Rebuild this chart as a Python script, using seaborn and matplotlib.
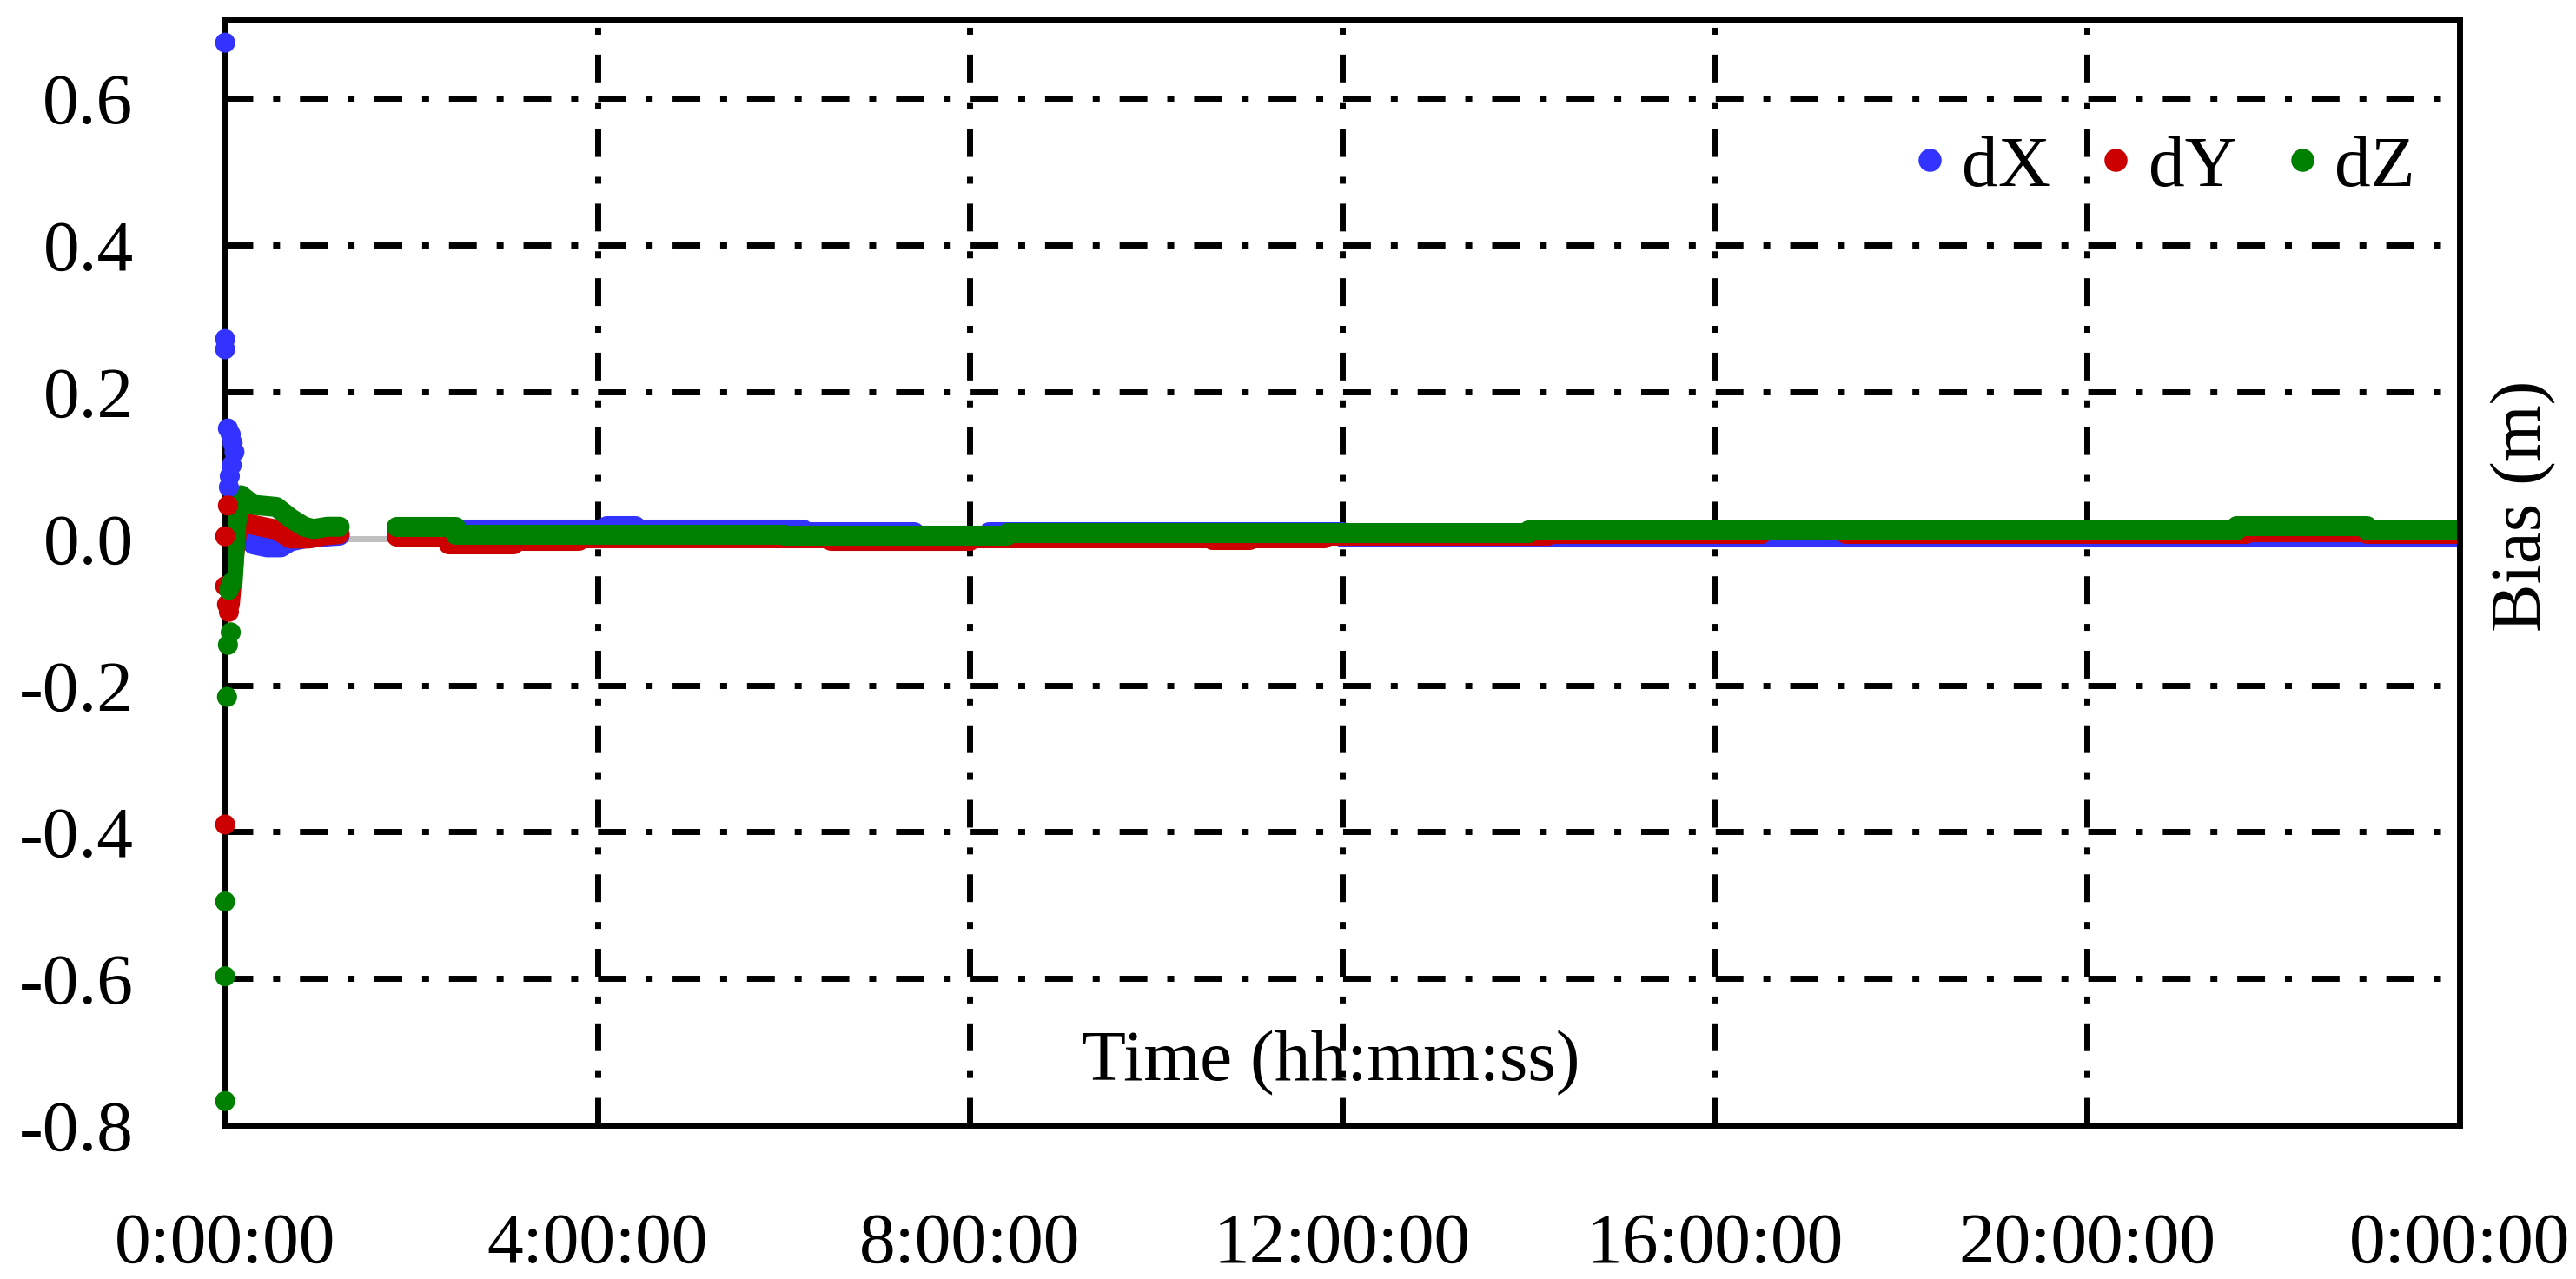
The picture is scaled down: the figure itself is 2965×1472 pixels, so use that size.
import pandas as pd
import matplotlib
matplotlib.use('Agg')
import matplotlib.pyplot as plt
import seaborn as sns

# Zaman saat cinsinden (0-24 h), sapma metre cinsinden
x_ticks = [0, 4, 8, 12, 16, 20, 24]
x_labels = ['0:00:00', '4:00:00', '8:00:00', '12:00:00', '16:00:00', '20:00:00', '0:00:00']
y_ticks = [-0.8, -0.6, -0.4, -0.2, 0.0, 0.2, 0.4, 0.6]
y_labels = ['-0.8', '-0.6', '-0.4', '-0.2', '0.0', '0.2', '0.4', '0.6']

# baslangictaki tekil noktalar
dx_dot_t = [0.0, 0.0, 0.0, 0.03, 0.06, 0.08, 0.10, 0.07, 0.05, 0.04]
dx_dot_v = [0.676, 0.272, 0.258, 0.150, 0.142, 0.130, 0.118, 0.100, 0.085, 0.070]
dy_dot_t = [0.0, 0.0, 0.02, 0.04, 0.0, 0.03]
dy_dot_v = [0.003, -0.065, -0.090, -0.100, -0.390, 0.045]
dz_dot_t = [0.0, 0.0, 0.0, 0.02, 0.03, 0.06, 0.04, 0.07]
dz_dot_v = [-0.767, -0.597, -0.495, -0.216, -0.145, -0.128, -0.070, -0.060]

# yakinsama bolumu (ilk ~1.2 saat)
dx_early_t = [0.08, 0.15, 0.3, 0.45, 0.6, 0.7, 0.85, 1.0, 1.23]
dx_early_v = [0.060, 0.020, -0.008, -0.012, -0.012, -0.004, 0.0, 0.002, 0.004]
dy_early_t = [0.05, 0.1, 0.15, 0.25, 0.4, 0.55, 0.7, 0.9, 1.05, 1.23]
dy_early_v = [-0.090, -0.020, 0.030, 0.020, 0.016, 0.012, 0.000, 0.000, 0.004, 0.006]
dz_early_t = [0.08, 0.12, 0.17, 0.3, 0.55, 0.7, 0.85, 0.95, 1.1, 1.23]
dz_early_v = [-0.060, 0.020, 0.059, 0.046, 0.043, 0.028, 0.016, 0.013, 0.016, 0.016]

# 1.84 saatten sonrasi (neredeyse sabit, basamakli)
dx_late_t = [1.84, 2.45, 4.1, 4.4, 6.2, 7.4, 8.2, 12.0, 24.0]
dx_late_v = [0.010, 0.013, 0.017, 0.013, 0.009, 0.005, 0.009, 0.002, 0.002]
dy_late_t = [1.84, 2.4, 3.1, 3.8, 6.5, 8.0, 10.6, 11.0, 11.8, 14.2, 16.5, 17.4, 21.7, 23.0, 24.0]
dy_late_v = [0.003, -0.007, -0.003, 0.001, -0.003, 0.001, -0.002, 0.001, 0.004, 0.007, 0.012, 0.007, 0.009, 0.007, 0.007]
dz_late_t = [1.84, 2.47, 6.0, 7.3, 8.4, 14.0, 21.6, 23.0, 24.0]
dz_late_v = [0.016, 0.006, 0.005, 0.004, 0.008, 0.012, 0.017, 0.012, 0.012]

renkler = {'dX': '#3333ff', 'dY': '#cc0000', 'dZ': '#008000'}


def uzun_tablo(parcalar):
    satirlar = []
    for ad, tt, vv in parcalar:
        for t, v in zip(tt, vv):
            satirlar.append({'t': t, 'v': v, 'seri': ad})
    return pd.DataFrame(satirlar)


df_dots = uzun_tablo([('dX', dx_dot_t, dx_dot_v), ('dY', dy_dot_t, dy_dot_v), ('dZ', dz_dot_t, dz_dot_v)])
df_early = uzun_tablo([('dX', dx_early_t, dx_early_v), ('dY', dy_early_t, dy_early_v), ('dZ', dz_early_t, dz_early_v)])
df_late = uzun_tablo([('dX', dx_late_t, dx_late_v), ('dY', dy_late_t, dy_late_v), ('dZ', dz_late_t, dz_late_v)])

sns.set_style('white')
plt.rcParams['font.family'] = ['Liberation Serif', 'DejaVu Serif']
plt.rcParams['axes.unicode_minus'] = False
plt.rcParams['text.color'] = 'black'

fig = plt.figure(figsize=(14.825, 7.36), dpi=200)
ax = fig.add_axes([0.0874, 0.1202, 0.8674, 0.8642])

# izgara: nokta-cizgi, 0'da gri eksen cizgisi
grid_ls = (0, (4.6, 3.3, 1.15, 3.3))
for y in y_ticks:
    if y != 0:
        ax.axhline(y, color='black', lw=2.5, ls=grid_ls, zorder=1)
for x in x_ticks[1:-1]:
    ax.axvline(x, color='black', lw=2.5, ls=grid_ls, zorder=1)
ax.axhline(0, color='#bfbfbf', lw=2.5, zorder=1.5)

hue_order = ['dX', 'dY', 'dZ']
sns.lineplot(data=df_early, x='t', y='v', hue='seri', hue_order=hue_order, palette=renkler,
             estimator=None, sort=False, lw=8.3, solid_capstyle='round', solid_joinstyle='round',
             legend=False, ax=ax, zorder=2)
sns.lineplot(data=df_late, x='t', y='v', hue='seri', hue_order=hue_order, palette=renkler,
             estimator=None, sort=False, lw=8.3, drawstyle='steps-post', solid_capstyle='round',
             solid_joinstyle='round', legend=False, ax=ax, zorder=2)
sns.scatterplot(data=df_dots, x='t', y='v', hue='seri', hue_order=hue_order, palette=renkler,
                s=69, linewidth=0, clip_on=False, ax=ax, zorder=3)

ax.set_xlim(0, 24)
ax.set_ylim(-0.8, 0.707)
ax.set_xticks(x_ticks)
ax.set_xticklabels(x_labels)
ax.set_yticks(y_ticks)
ax.set_yticklabels(y_labels)
ax.tick_params(axis='both', length=0, labelsize=30, colors='black')
ax.tick_params(axis='x', pad=36)
ax.tick_params(axis='y', pad=38)
ax.grid(False)
for sp in ax.spines.values():
    sp.set_color('black')
    sp.set_linewidth(2.5)
    sp.set_visible(True)

ax.set_xlabel('Time (hh:mm:ss)', fontsize=30, color='black')
ax.xaxis.set_label_coords(0.495, 0.086)
ax.set_ylabel('Bias (m)', fontsize=30, color='black')
ax.yaxis.set_label_position('right')
ax.yaxis.set_label_coords(1.014, 0.56)

handles, labels = ax.get_legend_handles_labels()
ax.legend(handles, labels, ncol=3, frameon=False, fontsize=30, loc='center right',
          bbox_to_anchor=(0.993, 0.866), borderaxespad=0, handlelength=0.4,
          handletextpad=0.25, columnspacing=0.7, markerscale=1.15, labelcolor='black')

plt.savefig('out.png', dpi=200)
